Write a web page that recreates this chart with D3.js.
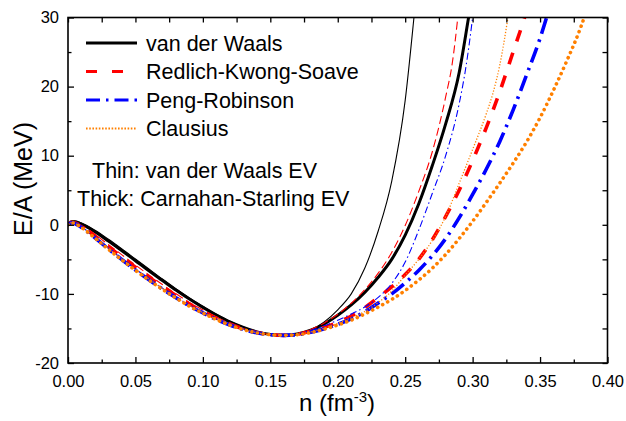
<!DOCTYPE html>
<html><head><meta charset="utf-8">
<script src="https://cdn.jsdelivr.net/npm/d3@7"></script>
<style>
html,body{margin:0;padding:0;background:#fff;}
svg{display:block;font-family:Arial,"Liberation Sans",sans-serif;}
</style></head>
<body>
<svg id="c" width="626" height="421"></svg>
<script>
// ---- data (n in fm^-3, E/A in MeV) ----
const vdwThin = [[0,0],[0.0025,0.5],[0.005,0.55],[0.01,0.27],[0.02,-0.79],[0.03,-2.1],[0.04,-3.5],[0.05,-4.95],[0.06,-6.4],[0.07,-7.85],[0.08,-9.25],[0.09,-10.6],[0.10,-11.8],[0.11,-12.95],[0.12,-13.95],[0.13,-14.8],[0.14,-15.45],[0.15,-15.85],[0.16,-16.0],[0.17,-15.8],[0.18,-15.2],[0.19,-14.05],[0.20,-12.3],[0.21,-10.0],[0.22,-6.3],[0.23,-0.9],[0.24,6.3],[0.25,18.0],[0.2565,30],[0.26,37]];
const vdwThick = [[0,0],[0.0025,0.45],[0.005,0.45],[0.01,0.1],[0.02,-1.0],[0.03,-2.35],[0.04,-3.75],[0.05,-5.2],[0.06,-6.65],[0.07,-8.05],[0.08,-9.45],[0.09,-10.75],[0.10,-11.95],[0.11,-13.05],[0.12,-14.05],[0.13,-14.85],[0.14,-15.5],[0.15,-15.88],[0.16,-16.0],[0.17,-15.8],[0.18,-15.25],[0.19,-14.35],[0.20,-13.1],[0.21,-11.6],[0.22,-9.8],[0.23,-7.6],[0.24,-5.0],[0.25,-1.5],[0.26,3.0],[0.27,8.5],[0.28,14.6],[0.29,22.0],[0.297,30],[0.30,33.5]];
const rksThin = [[0,0],[0.0025,0.39],[0.005,0.36],[0.01,-0.09],[0.02,-1.4],[0.03,-2.87],[0.04,-4.35],[0.05,-5.83],[0.06,-7.25],[0.07,-8.65],[0.08,-9.97],[0.09,-11.23],[0.10,-12.32],[0.11,-13.36],[0.12,-14.25],[0.13,-15.0],[0.14,-15.55],[0.15,-15.88],[0.16,-16.0],[0.17,-15.75],[0.18,-15.15],[0.19,-14.2],[0.20,-12.95],[0.21,-11.35],[0.22,-9.4],[0.23,-7.0],[0.24,-4.0],[0.25,-0.1],[0.26,4.8],[0.27,10.5],[0.28,18.5],[0.285,23.5],[0.289,30],[0.292,36]];
const rksThick = [[0,0],[0.0025,0.35],[0.005,0.29],[0.01,-0.22],[0.02,-1.62],[0.03,-3.15],[0.04,-4.66],[0.05,-6.15],[0.06,-7.56],[0.07,-8.94],[0.08,-10.23],[0.09,-11.46],[0.10,-12.51],[0.11,-13.51],[0.12,-14.36],[0.13,-15.06],[0.14,-15.59],[0.15,-15.89],[0.16,-16.0],[0.17,-15.85],[0.18,-15.4],[0.19,-14.85],[0.20,-14.1],[0.21,-13.2],[0.22,-12.0],[0.23,-10.5],[0.24,-9.0],[0.25,-7.2],[0.26,-5.0],[0.27,-2.2],[0.28,1.2],[0.29,5.0],[0.30,9.3],[0.31,14.0],[0.32,19.2],[0.33,25.0],[0.3385,30],[0.345,34.5]];
const prThin = [[0,0],[0.0025,0.32],[0.005,0.24],[0.01,-0.32],[0.02,-1.78],[0.03,-3.36],[0.04,-4.9],[0.05,-6.39],[0.06,-7.8],[0.07,-9.16],[0.08,-10.42],[0.09,-11.64],[0.10,-12.66],[0.11,-13.63],[0.12,-14.45],[0.13,-15.12],[0.14,-15.61],[0.15,-15.9],[0.16,-16.0],[0.17,-15.8],[0.18,-15.3],[0.19,-14.6],[0.20,-13.8],[0.21,-12.9],[0.22,-11.9],[0.23,-10.5],[0.24,-8.5],[0.25,-5.4],[0.26,-0.8],[0.27,4.5],[0.28,10.0],[0.29,17.5],[0.295,22.8],[0.30,30],[0.303,35]];
const prThick = [[0,0],[0.0025,0.3],[0.005,0.2],[0.01,-0.38],[0.02,-1.89],[0.03,-3.5],[0.04,-5.05],[0.05,-6.55],[0.06,-7.95],[0.07,-9.3],[0.08,-10.55],[0.09,-11.75],[0.10,-12.75],[0.11,-13.7],[0.12,-14.5],[0.13,-15.15],[0.14,-15.63],[0.15,-15.9],[0.16,-16.0],[0.17,-15.9],[0.18,-15.55],[0.19,-15.05],[0.20,-14.4],[0.21,-13.6],[0.22,-12.6],[0.23,-11.3],[0.24,-10.0],[0.25,-8.4],[0.26,-6.6],[0.27,-4.5],[0.28,-2.0],[0.29,1.0],[0.30,4.4],[0.31,8.0],[0.32,12.0],[0.33,16.6],[0.34,21.7],[0.35,27.0],[0.355,30.1],[0.36,33.5]];
const clThin = [[0,0],[0.0025,0.31],[0.005,0.22],[0.01,-0.35],[0.02,-1.84],[0.03,-3.43],[0.04,-4.97],[0.05,-6.47],[0.06,-7.87],[0.07,-9.23],[0.08,-10.49],[0.09,-11.69],[0.10,-12.7],[0.11,-13.66],[0.12,-14.47],[0.13,-15.13],[0.14,-15.62],[0.15,-15.9],[0.16,-16.0],[0.17,-15.85],[0.18,-15.5],[0.19,-14.95],[0.20,-14.25],[0.21,-13.45],[0.22,-12.55],[0.23,-11.25],[0.24,-9.6],[0.25,-7.3],[0.26,-5.0],[0.27,-2.3],[0.28,1.2],[0.29,6.0],[0.30,10.9],[0.31,16.0],[0.315,19.0],[0.32,23.0],[0.3262,30],[0.33,35]];
const clThick = [[0,0],[0.0025,0.28],[0.005,0.18],[0.01,-0.4],[0.02,-1.92],[0.03,-3.54],[0.04,-5.1],[0.05,-6.6],[0.06,-8.0],[0.07,-9.34],[0.08,-10.59],[0.09,-11.78],[0.10,-12.78],[0.11,-13.72],[0.12,-14.52],[0.13,-15.16],[0.14,-15.64],[0.15,-15.9],[0.16,-16.0],[0.17,-15.9],[0.18,-15.6],[0.19,-15.1],[0.20,-14.5],[0.21,-13.8],[0.22,-12.9],[0.23,-11.9],[0.24,-10.8],[0.25,-9.5],[0.26,-8.0],[0.27,-6.3],[0.28,-4.3],[0.29,-2.0],[0.30,0.5],[0.31,3.2],[0.32,6.0],[0.33,8.9],[0.34,12.0],[0.35,15.5],[0.36,19.5],[0.37,23.8],[0.38,28.5],[0.385,31.3]];

const legendLabels = ["van der Waals","Redlich-Kwong-Soave","Peng-Robinson","Clausius"];
const noteLabels = ["Thin: van der Waals EV","Thick: Carnahan-Starling EV"];
const xTicks = [0,0.05,0.10,0.15,0.20,0.25,0.30,0.35,0.40];
const xMinor = [0.025,0.075,0.125,0.175,0.225,0.275,0.325,0.375];
const yTicks = [-20,-10,0,10,20,30];
const yMinor = [-15,-5,5,15,25];

// ---- layout ----
const svg = d3.select("#c");
const L=68, R=607.5, T=17.5, B=363;
const x = d3.scaleLinear().domain([0,0.4]).range([L,R]);
const y = d3.scaleLinear().domain([-20,30]).range([B,T]);

svg.append("defs").append("clipPath").attr("id","clip")
  .append("rect").attr("x",L).attr("y",T).attr("width",R-L).attr("height",B-T);

const styles = {
  vdwThick:{data:vdwThick,color:"#000",w:3,dash:null,cap:"butt"},
  vdwThin:{data:vdwThin,color:"#000",w:1.1,dash:null,cap:"butt"},
  rksThin:{data:rksThin,color:"#ff0000",w:1.1,dash:"8,4",cap:"butt"},
  rksThick:{data:rksThick,color:"#ff0000",w:3.6,dash:"12,12",cap:"butt"},
  prThin:{data:prThin,color:"#0000ff",w:1.1,dash:"7,3,1.5,3",cap:"butt"},
  prThick:{data:prThick,color:"#0000ff",w:3.6,dash:"16,6,2.5,6",cap:"butt"},
  clThin:{data:clThin,color:"#ff8000",w:1.3,dash:"1.2,1.8",cap:"butt"},
  clThick:{data:clThick,color:"#ff8000",w:3.6,dash:"0.1,5.6",cap:"round"}
};
const order = ["vdwThick","vdwThin","rksThin","rksThick","prThin","prThick","clThin","clThick"];
const line = d3.line().x(d=>x(d[0])).y(d=>y(d[1])).curve(d3.curveMonotoneX);
const g = svg.append("g").attr("clip-path","url(#clip)");
order.forEach(k=>{
  const s = styles[k];
  g.append("path").attr("d",line(s.data)).attr("fill","none")
   .attr("stroke",s.color).attr("stroke-width",s.w)
   .attr("stroke-dasharray",s.dash).attr("stroke-linecap",s.cap)
   .attr("stroke-linejoin","round");
});

// ---- axes ----
function styleAxis(sel){ sel.select(".domain").remove(); sel.selectAll("line").attr("stroke","#000").attr("stroke-width",1.3); }
const fs = "16.5px";
svg.append("g").attr("transform",`translate(0,${B})`)
  .call(d3.axisBottom(x).tickValues(xTicks).tickSize(-6).tickPadding(12).tickFormat(d3.format(".2f")))
  .call(styleAxis).call(s=>s.selectAll("text").attr("font-size",fs).attr("fill","#000").attr("font-family","Arial, Liberation Sans, sans-serif"));
svg.append("g").attr("transform",`translate(0,${B})`)
  .call(d3.axisBottom(x).tickValues(xMinor).tickSize(-3.5).tickFormat(""))
  .call(styleAxis);
svg.append("g").attr("transform",`translate(0,${T})`)
  .call(d3.axisTop(x).tickValues(xTicks.concat(xMinor)).tickSize(-5).tickFormat(""))
  .call(styleAxis);
svg.append("g").attr("transform",`translate(${L},0)`)
  .call(d3.axisLeft(y).tickValues(yTicks).tickSize(-6).tickPadding(9).tickFormat(d=>String(d)))
  .call(styleAxis).call(s=>s.selectAll("text").attr("font-size",fs).attr("fill","#000").attr("font-family","Arial, Liberation Sans, sans-serif"));
svg.append("g").attr("transform",`translate(${L},0)`)
  .call(d3.axisLeft(y).tickValues(yMinor).tickSize(-3.5).tickFormat(""))
  .call(styleAxis);
svg.append("g").attr("transform",`translate(${R},0)`)
  .call(d3.axisRight(y).tickValues(yTicks.concat(yMinor)).tickSize(-5).tickFormat(""))
  .call(styleAxis);

svg.append("rect").attr("x",L).attr("y",T).attr("width",R-L).attr("height",B-T)
  .attr("fill","none").attr("stroke","#000").attr("stroke-width",1.6);

// ---- axis titles ----
svg.append("text").attr("transform",`translate(32,179) rotate(-90)`)
  .attr("text-anchor","middle").attr("font-size","25px").text("E/A (MeV)");
const xt = svg.append("text").attr("x",337).attr("y",410.5).attr("text-anchor","middle").attr("font-size","24px");
xt.append("tspan").text("n (fm");
xt.append("tspan").attr("font-size","15px").attr("dy",-9).text("-3");
xt.append("tspan").attr("dy",9).text(")");

// ---- legend ----
const legKeys = ["vdwThick","rksThick","prThick","clThin"];
const legY = [43,71.5,100,128.5];
legKeys.forEach((k,i)=>{
  const s = styles[k];
  const isCl = k==="clThin";
  svg.append("line").attr("x1",86).attr("x2",137).attr("y1",legY[i]).attr("y2",legY[i])
    .attr("stroke",s.color).attr("stroke-width",isCl?2:3.2)
    .attr("stroke-dasharray",isCl?"1.6,1.6":(k==="rksThick"?"11,15":(k==="prThick"?"14,6,2.5,6":null)));
  svg.append("text").attr("x",146).attr("y",legY[i]+7.5).attr("font-size","21.5px").text(legendLabels[i]);
});
svg.append("text").attr("x",92).attr("y",177.5).attr("font-size","21.5px").text(noteLabels[0]);
svg.append("text").attr("x",77).attr("y",205.5).attr("font-size","21.5px").text(noteLabels[1]);
</script>
</body></html>
